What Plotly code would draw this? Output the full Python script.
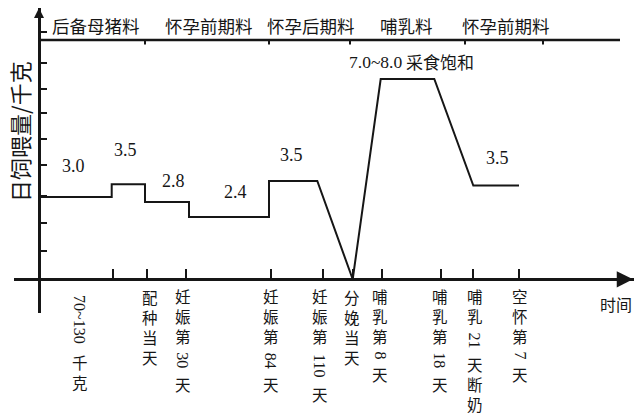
import re
import plotly.graph_objects as go

# feed line (x = schematic time position, y = kg/day)
feed_x = [0, 7.27, 7.27, 10.6, 10.6, 15.0, 15.0, 23.0, 23.0, 27.83, 31.37, 34.17, 39.53, 43.43, 48.0]
feed_y = [3.05, 3.05, 3.52, 3.52, 2.86, 2.86, 2.31, 2.31, 3.64, 3.64, 0, 7.42, 7.42, 3.47, 3.47]

# ticks on the time axis and their labels
stage_ticks = [7.43, 10.77, 14.67, 23.2, 28.37, 31.37, 34.27, 40.17, 43.37, 48.03]
stage_labels = ["70~130 千克", "配种当天", "妊娠第 30天", "妊娠第 84天", "妊娠第 110天",
                "分娩当天", "哺乳第 8天", "哺乳第 18天", "哺乳 21天断奶", "空怀第 7天"]
stage_label_x = [4.1, 11.1, 14.4, 23.16, 28.1, 31.3, 34.1, 40.1, 43.57, 48.1]

# feed type bands on top
phases = ["后备母猪料", "怀孕前期料", "怀孕后期料", "哺乳料", "怀孕前期料"]
phase_x = [5.7, 17.0, 27.2, 36.7, 46.7]
phase_ticks = [10.6, 23.0, 31.1, 42.6, 50.4]
top_level = 8.86
top_end = 58.1

# value labels
value_text = ["3.0", "3.5", "2.8", "2.4", "3.5", "3.5"]
value_x = [3.4, 8.6, 13.45, 19.67, 25.2, 45.8]
value_y = [4.19, 4.79, 3.65, 3.24, 4.6, 4.49]

y_ticks = [1.06, 2.07, 3.1, 4.22, 5.2, 6.15, 7.05, 8.02, 9.17]

INK = "#161616"
CJK = "Noto Sans CJK SC"
SERIF = "Liberation Serif"

fig = go.Figure()
fig.add_trace(go.Scatter(x=feed_x, y=feed_y, mode="lines",
                         line=dict(color=INK, width=2), hoverinfo="skip"))

ann = []
# header
for t, x in zip(phases, phase_x):
    ann.append(dict(x=x, y=9.42, text=t, showarrow=False,
                    font=dict(family=CJK, size=17.5, color=INK)))
# values
for t, x, y in zip(value_text, value_x, value_y):
    ann.append(dict(x=x, y=y, text=t, showarrow=False,
                    font=dict(family=SERIF, size=18, color=INK)))
ann.append(dict(x=33.6, y=8.06, text="7.0~8.0", showarrow=False,
                font=dict(family=SERIF, size=17.5, color=INK)))
ann.append(dict(x=40.1, y=8.06, text="采食饱和", showarrow=False,
                font=dict(family=CJK, size=17, color=INK)))

# vertical labels under the axis: CJK upright (stacked lines), digits turned
CJK_SIZE = 15.5
PITCH = CJK_SIZE * 1.3
for x, text in zip(stage_label_x, stage_labels):
    pos = 7
    for p in re.findall(r"[0-9~]+|[^\s0-9~]+", text):
        if p[0].isdigit():
            pos += 4
            h = 9.6 * len(p)
            ann.append(dict(x=x, y=0, text=p, textangle=90, showarrow=False,
                            xanchor="center", yanchor="middle", yshift=-(pos + h / 2),
                            font=dict(family=SERIF, size=16, color=INK)))
            pos += h + 4
        else:
            h = PITCH * len(p)
            ann.append(dict(x=x, y=0, text="<br>".join(p), showarrow=False,
                            xanchor="center", yanchor="middle", yshift=-(pos + h / 2),
                            font=dict(family=CJK, size=CJK_SIZE, color=INK)))
            pos += h

ann.append(dict(x=57.7, y=0, yshift=-25, text="时间", showarrow=False,
                font=dict(family=CJK, size=16, color=INK)))
ann.append(dict(x=-2.0, y=5.46, text="日饲喂量/千克", textangle=-90, showarrow=False,
                font=dict(family=CJK, size=22, color=INK)))

# arrow heads
ann.append(dict(x=59.4, y=0, ax=57.0, ay=0, axref="x", ayref="y", text="",
                showarrow=True, arrowhead=2, arrowsize=1.3, arrowwidth=2.5, arrowcolor=INK))
ann.append(dict(x=0, y=10.05, ax=0, ay=9.3, axref="x", ayref="y", text="",
                showarrow=True, arrowhead=2, arrowsize=1, arrowwidth=2, arrowcolor=INK))

shapes = [dict(type="line", x0=0, x1=top_end, y0=top_level, y1=top_level,
               line=dict(color=INK, width=2.5))]
for x in phase_ticks:
    shapes.append(dict(type="line", x0=x, x1=x, y0=top_level, y1=top_level - 0.16,
                       line=dict(color=INK, width=2)))

fig.update_layout(
    width=640, height=415,
    margin=dict(l=14, r=6, t=8, b=102),
    paper_bgcolor="white", plot_bgcolor="white",
    showlegend=False,
    annotations=ann, shapes=shapes,
    xaxis=dict(range=[-2.5, 59.5], anchor="free", position=1.25 / 11.3,
               showline=True, linecolor=INK, linewidth=2.5,
               ticks="inside", ticklen=10, tickwidth=2, tickcolor=INK,
               tickvals=stage_ticks, showticklabels=False,
               showgrid=False, zeroline=False, fixedrange=True),
    yaxis=dict(range=[-1.25, 10.05], anchor="free", position=2.5 / 62,
               showline=True, linecolor=INK, linewidth=2.5,
               ticks="inside", ticklen=6, tickwidth=2, tickcolor=INK,
               tickvals=y_ticks, showticklabels=False,
               showgrid=False, zeroline=False, fixedrange=True),
)

# page body has a default margin; drop it so the chart sits at 0,0
fig.write_html("out.html", config={"displayModeBar": False},
               post_script="document.body.style.margin='0px';")
